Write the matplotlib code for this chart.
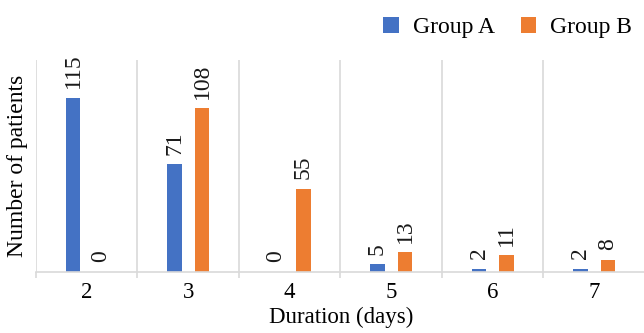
import matplotlib.pyplot as plt
import numpy as np

plt.rcParams['font.family'] = ['Liberation Serif', 'DejaVu Serif']

durations = ['2', '3', '4', '5', '6', '7']
group_a = [115, 71, 0, 5, 2, 2]
group_b = [0, 108, 55, 13, 11, 8]

blue = '#4472C4'
orange = '#ED7D31'
grid_col = '#d9d9d9'

fig = plt.figure(figsize=(6.44, 3.33), dpi=100)
ax = fig.add_axes([36 / 644, 61 / 333, 611 / 644, 212 / 333])

x = np.arange(len(durations))
w = 0.14
off = 0.135
bars_a = ax.bar(x - off, group_a, w, color=blue, label='Group A')
bars_b = ax.bar(x + off, group_b, w, color=orange, label='Group B')

# value labels, rotated like the original
for bars, vals in [(bars_a, group_a), (bars_b, group_b)]:
    for b, v in zip(bars, vals):
        ax.annotate(str(v), (b.get_x() + b.get_width() / 2, v), xytext=(0, 7),
                    textcoords='offset points', rotation=90, ha='center', va='bottom',
                    fontsize=17, color='#1a1a1a')

ax.set_xlim(-0.5, len(durations) - 0.5 + 0.02)
ax.set_ylim(0, 140)
ax.set_yticks([])
ax.set_xticks(x)
ax.set_xticklabels(durations, fontsize=16.5)
ax.set_xticks(np.arange(len(durations) + 1) - 0.5, minor=True)
ax.tick_params(axis='x', which='major', length=0, pad=7)
ax.tick_params(axis='x', which='minor', length=4, color=grid_col, width=1.2)
ax.grid(axis='x', which='minor', color=grid_col, linewidth=1.2)
ax.set_axisbelow(True)
for s in ['top', 'right', 'left']:
    ax.spines[s].set_visible(False)
ax.spines['bottom'].set_color(grid_col)
ax.spines['bottom'].set_linewidth(1.2)

ax.set_xlabel('Duration (days)', fontsize=16.5, labelpad=3)
ax.set_ylabel('Number of patients', fontsize=17, labelpad=6)

fig.legend(loc='upper right', bbox_to_anchor=(1.0, 0.985), ncol=2, frameon=False,
           fontsize=17, handlelength=0.65, handleheight=0.65, columnspacing=1.1,
           handletextpad=0.6, borderaxespad=0.1)

fig.savefig('out.png', dpi=100)
